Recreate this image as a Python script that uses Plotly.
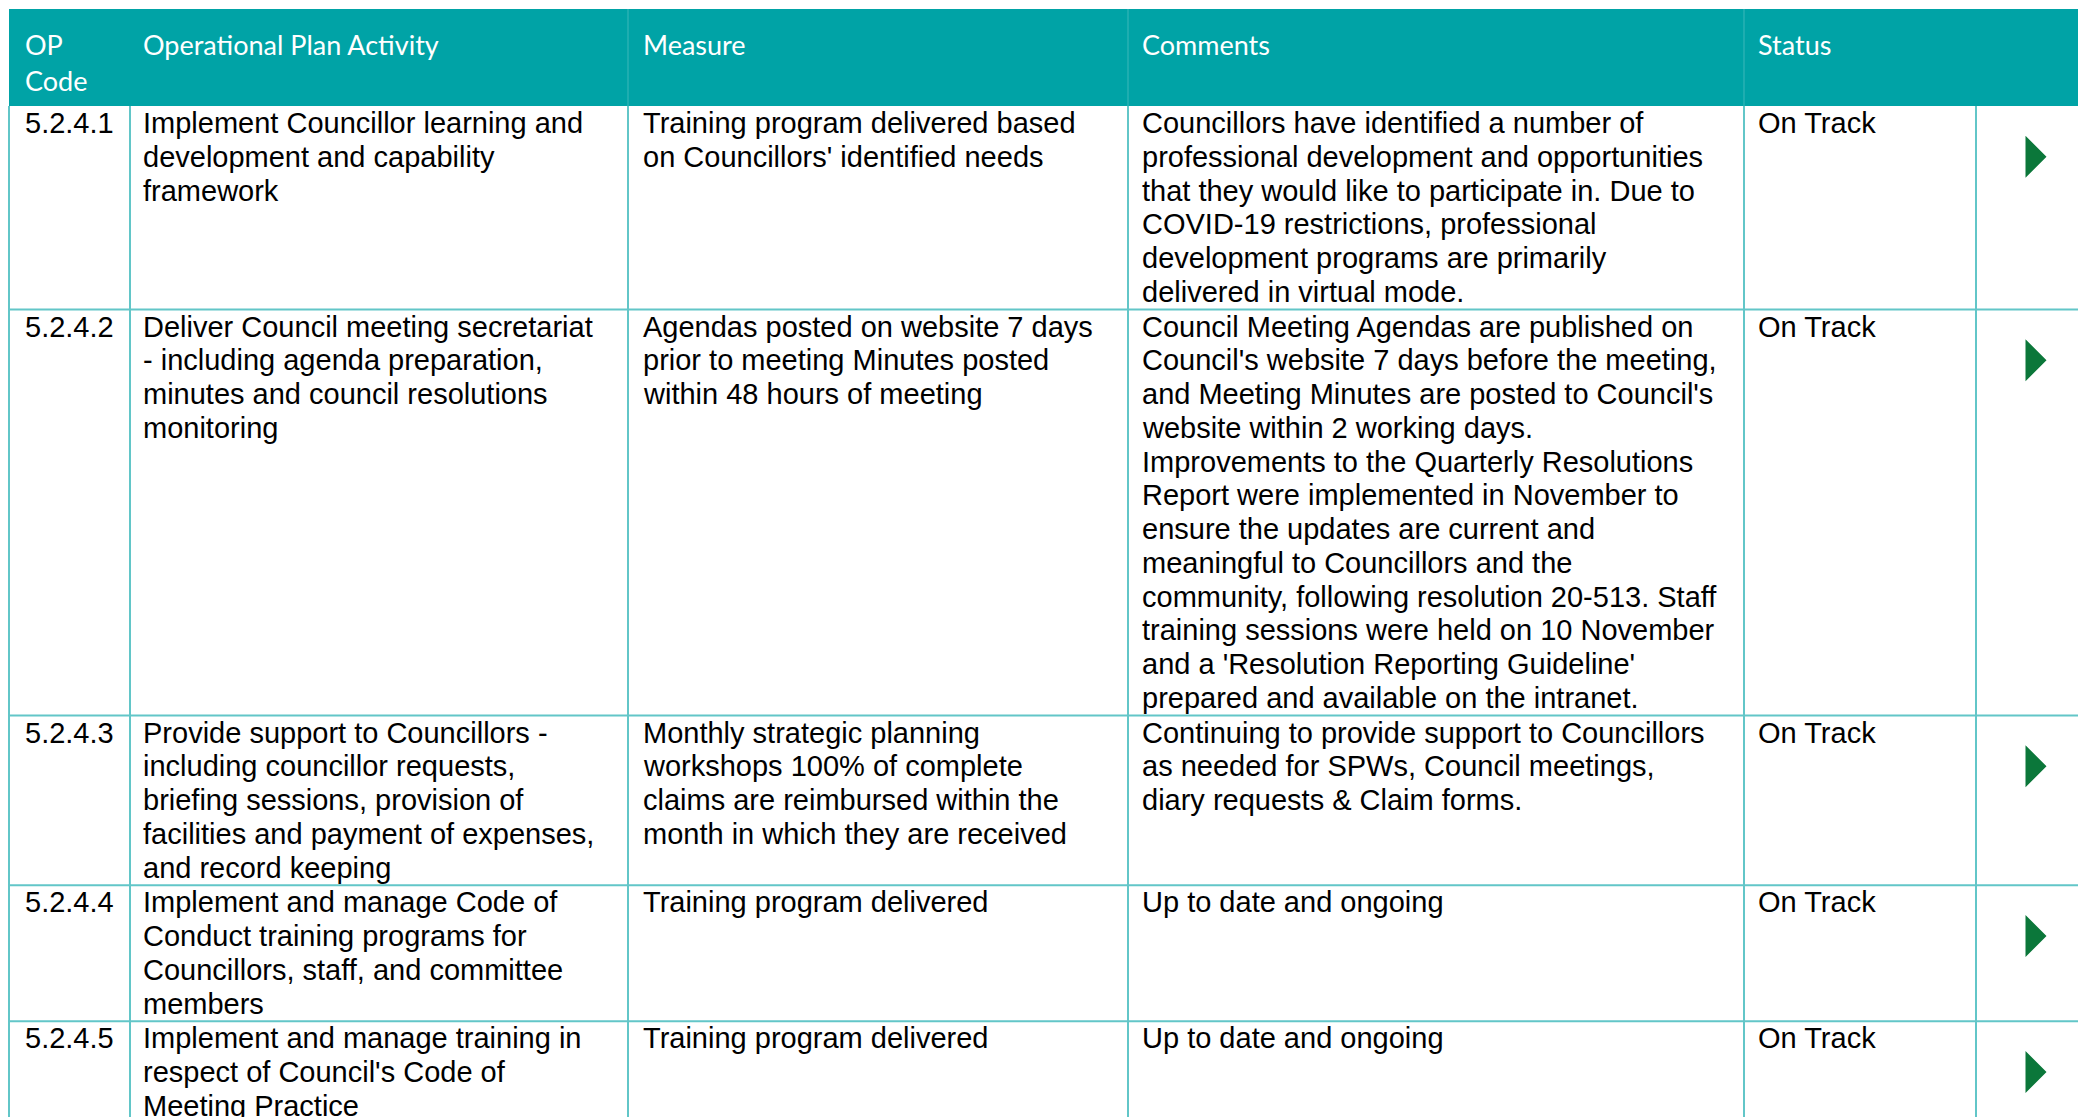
import plotly.graph_objects as go

# ---------------- data ----------------
headers = ["OP<br>Code", "Operational Plan Activity", "Measure", "Comments", "Status"]

op_codes = ["5.2.4.1", "5.2.4.2", "5.2.4.3", "5.2.4.4", "5.2.4.5"]

activities = [
    ["Implement Councillor learning and", "development and capability", "framework"],
    ["Deliver Council meeting secretariat", "- including agenda preparation,", "minutes and council resolutions", "monitoring"],
    ["Provide support to Councillors -", "including councillor requests,", "briefing sessions, provision of",
     "facilities and payment of expenses,", "and record keeping"],
    ["Implement and manage Code of", "Conduct training programs for", "Councillors, staff, and committee", "members"],
    ["Implement and manage training in", "respect of Council's Code of", "Meeting Practice"],
]

measures = [
    ["Training program delivered based", "on Councillors' identified needs"],
    ["Agendas posted on website 7 days", "prior to meeting Minutes posted", "within 48 hours of meeting"],
    ["Monthly strategic planning", "workshops 100% of complete", "claims are reimbursed within the",
     "month in which they are received"],
    ["Training program delivered"],
    ["Training program delivered"],
]

comments = [
    ["Councillors have identified a number of", "professional development and opportunities",
     "that they would like to participate in. Due to", "COVID-19 restrictions, professional",
     "development programs are primarily", "delivered in virtual mode."],
    ["Council Meeting Agendas are published on", "Council's website 7 days before the meeting,",
     "and Meeting Minutes are posted to Council's", "website within 2 working days.",
     "Improvements to the Quarterly Resolutions", "Report were implemented in November to",
     "ensure the updates are current and", "meaningful to Councillors and the",
     "community, following resolution 20-513. Staff", "training sessions were held on 10 November",
     "and a 'Resolution Reporting Guideline'", "prepared and available on the intranet."],
    ["Continuing to provide support to Councillors", "as needed for SPWs, Council meetings,",
     "diary requests & Claim forms."],
    ["Up to date and ongoing"],
    ["Up to date and ongoing"],
]

statuses = ["On Track", "On Track", "On Track", "On Track", "On Track"]

# ---------------- layout / style ----------------
W, H = 2078, 1117
TEAL = "#00A3A6"
GRID = "#62C6C8"
GREEN = "#0B773A"
BODY_FONT = "Liberation Sans, Arial, sans-serif"
HEAD_FONT = "Lato, Open Sans, sans-serif"

col_edges = [9, 130, 628, 1128, 1744, 1976, 2200]
text_pads = [14, 11, 13, 12, 12]
header_top, header_bottom = 9, 106
line_h = 33.75
first_line_off = 17

fig = go.Figure()
shapes = []
annotations = []

# header band
shapes.append(dict(type="rect", xref="x", yref="y", x0=col_edges[0], x1=W + 10,
                   y0=header_top, y1=header_bottom, fillcolor=TEAL, line=dict(width=0), layer="below"))
for xe in col_edges[2:5]:
    shapes.append(dict(type="line", xref="x", yref="y", x0=xe, x1=xe, y0=header_top, y1=header_bottom,
                       line=dict(color="#3DB8BA", width=1)))

# header text
head_lines = [h.split("<br>") for h in headers]
for ci, lines in enumerate(head_lines):
    for li, t in enumerate(lines):
        annotations.append(dict(x=col_edges[ci] + text_pads[ci], y=44 + li * 36, xref="x", yref="y",
                                text=t, showarrow=False, xanchor="left", yanchor="middle",
                                font=dict(family=HEAD_FONT, size=27, color="white")))

# rows
cells = list(zip(op_codes, activities, measures, comments, statuses))
row_top = header_bottom
row_tops = []
for code, act, mea, com, st in cells:
    cols = [[code], act, mea, com, [st]]
    n = max(len(c) for c in cols)
    row_tops.append(row_top)
    for ci, lines in enumerate(cols):
        for li, t in enumerate(lines):
            annotations.append(dict(x=col_edges[ci] + text_pads[ci], y=row_top + first_line_off + li * line_h,
                                    xref="x", yref="y", text=t, showarrow=False,
                                    xanchor="left", yanchor="middle",
                                    font=dict(family=BODY_FONT, size=29, color="black")))
    row_top = row_top + n * line_h + 1
row_bottoms = row_tops[1:] + [row_top]

# grid lines
for yb in row_bottoms:
    shapes.append(dict(type="line", xref="x", yref="y", x0=col_edges[0], x1=W + 10, y0=yb, y1=yb,
                       line=dict(color=GRID, width=2)))
for xe in col_edges[:6]:
    shapes.append(dict(type="line", xref="x", yref="y", x0=xe, x1=xe, y0=header_bottom, y1=H + 10,
                       line=dict(color=GRID, width=2)))

# status arrows (triangles) at second-line position of each row
ax_c = col_edges[5] + 60
tri_w, tri_h = 21, 42
tx, ty = [], []
for rt in row_tops:
    cy = rt + first_line_off + line_h
    tx += [ax_c - tri_w / 2, ax_c + tri_w / 2, ax_c - tri_w / 2, ax_c - tri_w / 2, None]
    ty += [cy - tri_h / 2, cy, cy + tri_h / 2, cy - tri_h / 2, None]
fig.add_trace(go.Scatter(x=tx, y=ty, mode="lines", fill="toself", fillcolor=GREEN,
                         line=dict(color=GREEN, width=0), hoverinfo="skip", showlegend=False))

fig.update_layout(
    width=W, height=H, margin=dict(l=0, r=0, t=0, b=0),
    paper_bgcolor="white", plot_bgcolor="white",
    xaxis=dict(range=[0, W], visible=False, fixedrange=True),
    yaxis=dict(range=[H, 0], visible=False, fixedrange=True),
    shapes=shapes, annotations=annotations, showlegend=False,
)

fig.write_html("out.html", config={"displayModeBar": False},
               post_script="document.body.style.margin='0';document.body.style.overflow='hidden';")
